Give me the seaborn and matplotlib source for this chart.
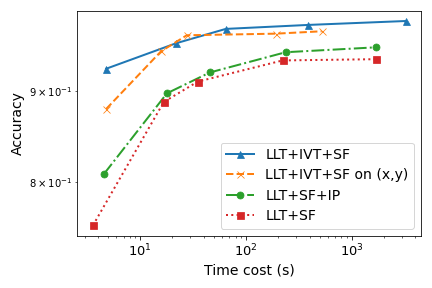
import matplotlib
matplotlib.use('Agg')

import matplotlib.pyplot as plt
import seaborn as sns
import pandas as pd

# values
ivt_sf_time = [4.8, 21.9, 64.7, 384, 3228]
ivt_sf_acc = [0.926, 0.957, 0.975, 0.980, 0.985]

ivt_sf_xy_time = [4.8, 15.8, 27.7, 192, 521]
ivt_sf_xy_acc = [0.879, 0.947, 0.967, 0.969, 0.972]

sf_ip_time = [4.57, 18.0, 45.7, 238, 1683]
sf_ip_acc = [0.808, 0.897, 0.9215, 0.946, 0.952]

sf_time = [3.6, 16.8, 35.2, 223, 1683]
sf_acc = [0.756, 0.887, 0.9107, 0.936, 0.9375]

series = [
    ("LLT+IVT+SF", ivt_sf_time, ivt_sf_acc, "-", "^"),
    ("LLT+IVT+SF on (x,y)", ivt_sf_xy_time, ivt_sf_xy_acc, "--", "x"),
    ("LLT+SF+IP", sf_ip_time, sf_ip_acc, "-.", "o"),
    ("LLT+SF", sf_time, sf_acc, ":", "s"),
]

colors = sns.color_palette("tab10")

fig, ax = plt.subplots(figsize=(6, 4), dpi=72)

for i, (name, t, acc, ls, mk) in enumerate(series):
    df = pd.DataFrame({"time": t, "acc": acc})
    sns.lineplot(data=df, x="time", y="acc", ax=ax, color=colors[i],
                 linestyle=ls, marker=mk, markersize=7, linewidth=2,
                 markeredgecolor=colors[i], label=name)

ax.set_xscale("log")
ax.set_yscale("log")
ax.set_xlabel("Time cost (s)", fontsize=14)
ax.set_ylabel("Accuracy", fontsize=14)
ax.tick_params(axis="x", which="major", labelsize=13)
ax.legend(loc="lower right", fontsize=14, labelspacing=0.45)

plt.tight_layout()
plt.savefig("out.png")
plt.close()
